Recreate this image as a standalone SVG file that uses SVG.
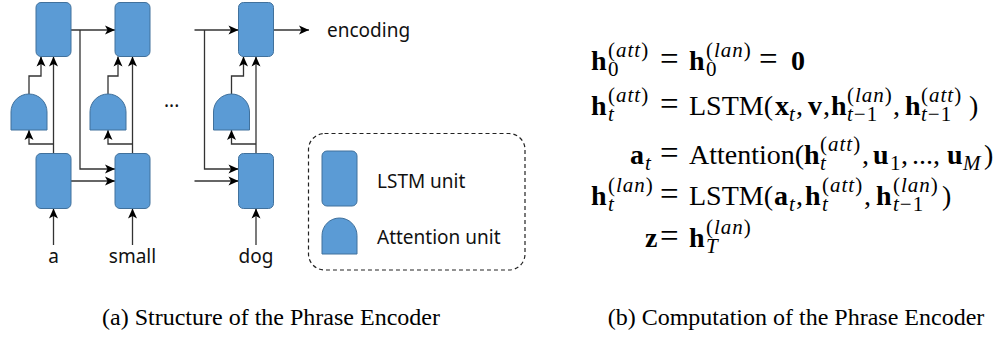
<svg xmlns="http://www.w3.org/2000/svg" width="1000" height="337" viewBox="0 0 1000 337">
<defs>
<marker id="arr" markerUnits="userSpaceOnUse" markerWidth="12" markerHeight="12" viewBox="0 0 12 12" refX="11" refY="6" orient="auto">
<path d="M1,1.5 L11,6 L1,10.5 L3.5,6 z" fill="#000"/>
</marker>
<style>
.lstm{fill:#5b9bd5;stroke:#41719c;stroke-width:1}
.att{fill:#5b9bd5;stroke:#41719c;stroke-width:1}
.ln{fill:none;stroke:#333;stroke-width:1.3}
.ar{marker-end:url(#arr)}
.lbl{font-family:"Noto Sans","Open Sans",sans-serif;font-size:19px;fill:#111}
.m{font-family:"Liberation Serif",serif;font-size:28px;fill:#000}
.b{font-weight:bold}
.s{font-size:21px;letter-spacing:1px}
.i{font-style:italic}
.eq{font-size:33px}
.cap{font-family:"Liberation Serif",serif;font-size:24px;fill:#000;text-anchor:middle}
</style>
</defs>
<rect width="1000" height="337" fill="#fff"/>

<g id="connectors">
<path class="ln ar" d="M53.5,245 V208.5"/>
<path class="ln ar" d="M53.5,153.5 V56.5"/>
<path class="ln ar" d="M53.5,144 H29 V130"/>
<path class="ln ar" d="M29,94 V76 H41 V56.5"/>
<path class="ln ar" d="M71,30 H115"/>
<path class="ln ar" d="M80,30 V169 H115"/>
<path class="ln ar" d="M71,181 H115"/>
<path class="ln ar" d="M132.5,245 V208.5"/>
<path class="ln ar" d="M132.5,153.5 V56.5"/>
<path class="ln ar" d="M132.5,144 H108 V130"/>
<path class="ln ar" d="M108,94 V76 H118 V56.5"/>
<path class="ln ar" d="M194.5,30 H238.5"/>
<path class="ln ar" d="M204.5,30 V169 H238.5"/>
<path class="ln ar" d="M194.5,181 H238.5"/>
<path class="ln ar" d="M256,245 V208.5"/>
<path class="ln ar" d="M256,153.5 V56.5"/>
<path class="ln ar" d="M256,144 H231.5 V130"/>
<path class="ln ar" d="M231.5,94 V76 H243.5 V56.5"/>
<path class="ln ar" d="M273.5,30 H309"/>
</g>

<g id="lstm-top-1"><rect class="lstm" x="36" y="2.5" width="35" height="54" rx="5"/></g>
<g id="lstm-top-2"><rect class="lstm" x="115" y="2.5" width="35" height="54" rx="5"/></g>
<g id="lstm-top-3"><rect class="lstm" x="238.5" y="2.5" width="35" height="54" rx="5"/></g>
<g id="lstm-bot-1"><rect class="lstm" x="36" y="153.5" width="35" height="55" rx="5"/></g>
<g id="lstm-bot-2"><rect class="lstm" x="115" y="153.5" width="35" height="55" rx="5"/></g>
<g id="lstm-bot-3"><rect class="lstm" x="238.5" y="153.5" width="35" height="55" rx="5"/></g>
<g id="att-1"><path class="att" d="M11,130 V112 A18,18 0 0 1 47,112 V130 Z"/></g>
<g id="att-2"><path class="att" d="M90,130 V112 A18,18 0 0 1 126,112 V130 Z"/></g>
<g id="att-3"><path class="att" d="M213.5,130 V112 A18,18 0 0 1 249.5,112 V130 Z"/></g>

<g id="words">
<text class="lbl" x="53.5" y="263" text-anchor="middle">a</text>
<text class="lbl" x="132.5" y="263" text-anchor="middle">small</text>
<text class="lbl" x="256" y="263" text-anchor="middle">dog</text>
<text class="lbl" x="327" y="37">encoding</text>
<text class="lbl" x="164" y="107">...</text>
</g>

<g id="legend">
<rect x="308.5" y="133.5" width="216.5" height="136.5" rx="16" fill="none" stroke="#222" stroke-width="1.2" stroke-dasharray="4,3"/>
<rect class="lstm" x="322" y="151" width="35" height="55" rx="5"/>
<path class="att" d="M322,254 V235.5 A17.5,17.5 0 0 1 357,235.5 V254 Z"/>
<text class="lbl" x="377" y="188">LSTM unit</text>
<text class="lbl" x="377" y="244">Attention unit</text>
</g>

<g id="equations">
<!-- line 1 -->
<text class="m b" x="591" y="70">h</text>
<text class="m s" x="608" y="57">(<tspan class="i">att</tspan>)</text>
<text class="m s" x="608" y="76">0</text>
<text class="m eq" x="660" y="70">=</text>
<text class="m b" x="689" y="70">h</text>
<text class="m s" x="706" y="57">(<tspan class="i">lan</tspan>)</text>
<text class="m s" x="706" y="76">0</text>
<text class="m eq" x="759" y="70">=</text>
<text class="m b" x="791" y="70">0</text>
<!-- line 2 -->
<text class="m b" x="591" y="115">h</text>
<text class="m s" x="608" y="102">(<tspan class="i">att</tspan>)</text>
<text class="m s i" x="608" y="121">t</text>
<text class="m eq" x="660" y="115">=</text>
<text class="m" x="689" y="115">LSTM(</text>
<text class="m b" x="775" y="115">x</text>
<text class="m s i" x="789" y="121">t</text>
<text class="m" x="796" y="115">,</text>
<text class="m b" x="808" y="115">v</text>
<text class="m" x="823" y="115">,</text>
<text class="m b" x="831" y="115">h</text>
<text class="m s" x="847" y="102">(<tspan class="i">lan</tspan>)</text>
<text class="m s" x="847" y="121"><tspan class="i">t</tspan>−1</text>
<text class="m" x="893" y="115">,</text>
<text class="m b" x="905" y="115">h</text>
<text class="m s" x="921" y="102">(<tspan class="i">att</tspan>)</text>
<text class="m s" x="921" y="121"><tspan class="i">t</tspan>−1</text>
<text class="m" x="969" y="115">)</text>
<!-- line 3 -->
<text class="m b" x="630" y="164">a</text>
<text class="m s i" x="645" y="170">t</text>
<text class="m eq" x="660" y="164">=</text>
<text class="m" x="689" y="164">Attention(</text>
<text class="m b" x="804" y="164">h</text>
<text class="m s" x="820" y="151">(<tspan class="i">att</tspan>)</text>
<text class="m s i" x="820" y="170">t</text>
<text class="m" x="862" y="164">,</text>
<text class="m b" x="873" y="164">u</text>
<text class="m s" x="890" y="170">1</text>
<text class="m" x="901" y="164">,</text>
<text class="m" x="912" y="164">...,</text>
<text class="m b" x="947" y="164">u</text>
<text class="m s i" x="963" y="170">M</text>
<text class="m" x="984" y="164">)</text>
<!-- line 4 -->
<text class="m b" x="591" y="205">h</text>
<text class="m s" x="608" y="192">(<tspan class="i">lan</tspan>)</text>
<text class="m s i" x="608" y="211">t</text>
<text class="m eq" x="660" y="205">=</text>
<text class="m" x="689" y="205">LSTM(</text>
<text class="m b" x="774" y="205">a</text>
<text class="m s i" x="789" y="211">t</text>
<text class="m" x="796" y="205">,</text>
<text class="m b" x="805" y="205">h</text>
<text class="m s" x="822" y="192">(<tspan class="i">att</tspan>)</text>
<text class="m s i" x="822" y="211">t</text>
<text class="m" x="864" y="205">,</text>
<text class="m b" x="876" y="205">h</text>
<text class="m s" x="893" y="192">(<tspan class="i">lan</tspan>)</text>
<text class="m s" x="893" y="211"><tspan class="i">t</tspan>−1</text>
<text class="m" x="942" y="205">)</text>
<!-- line 5 -->
<text class="m b" x="645" y="247">z</text>
<text class="m eq" x="660" y="247">=</text>
<text class="m b" x="689" y="247">h</text>
<text class="m s" x="706" y="234">(<tspan class="i">lan</tspan>)</text>
<text class="m s i" x="706" y="253">T</text>
</g>

<g id="captions">
<text class="cap" x="271" y="325">(a) Structure of the Phrase Encoder</text>
<text class="cap" x="796" y="325">(b) Computation of the Phrase Encoder</text>
</g>
</svg>
